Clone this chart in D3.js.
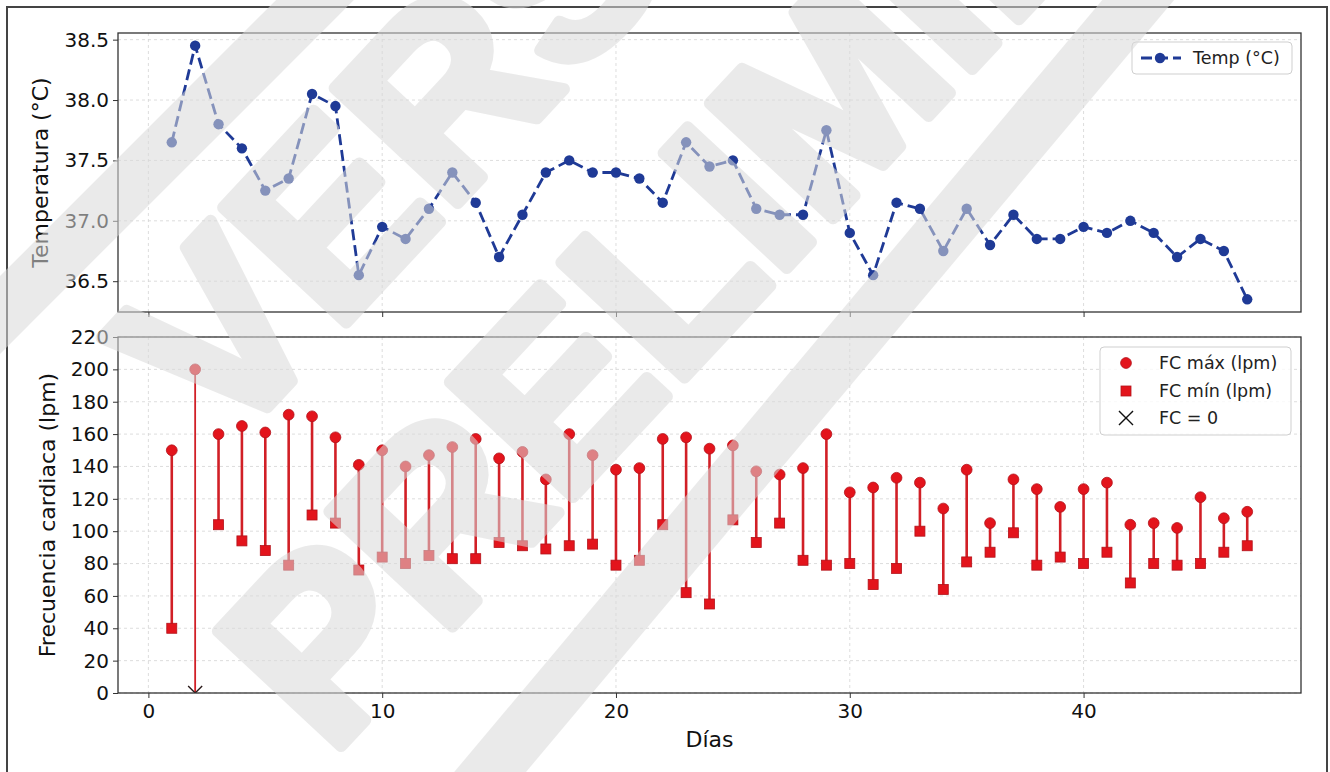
<!DOCTYPE html>
<html>
<head>
<meta charset="utf-8" />
<title>Temperatura y frecuencia cardiaca</title>
<script src="https://d3js.org/d3.v7.min.js"></script>
<style>
  body { margin: 0; background: #fff; }
  svg { display: block; font-family: "DejaVu Sans", sans-serif; }
</style>
</head>
<body>
<svg id="chart" width="1330" height="772"></svg>
<script>
// Data
const days = [1, 2, 3, 4, 5, 6, 7, 8, 9, 10, 11, 12, 13, 14, 15, 16, 17, 18, 19, 20,
  21, 22, 23, 24, 25, 26, 27, 28, 29, 30, 31, 32, 33, 34, 35, 36, 37, 38, 39, 40,
  41, 42, 43, 44, 45, 46, 47];
const temp = [37.65, 38.45, 37.8, 37.6, 37.25, 37.35, 38.05, 37.95, 36.55, 36.95,
  36.85, 37.1, 37.4, 37.15, 36.7, 37.05, 37.4, 37.5, 37.4, 37.4,
  37.35, 37.15, 37.65, 37.45, 37.5, 37.1, 37.05, 37.05, 37.75, 36.9,
  36.55, 37.15, 37.1, 36.75, 37.1, 36.8, 37.05, 36.85, 36.85, 36.95,
  36.9, 37.0, 36.9, 36.7, 36.85, 36.75, 36.35];
const fcMax = [150, 200, 160, 165, 161, 172, 171, 158, 141, 150,
  140, 147, 152, 157, 145, 149, 132, 160, 147, 138,
  139, 157, 158, 151, 153, 137, 135, 139, 160, 124,
  127, 133, 130, 114, 138, 105, 132, 126, 115, 126,
  130, 104, 105, 102, 121, 108, 112];
const fcMin = [40, 0, 104, 94, 88, 79, 110, 105, 76, 84,
  80, 85, 83, 83, 93, 91, 89, 91, 92, 79,
  82, 104, 62, 55, 107, 93, 105, 82, 79, 80,
  67, 77, 100, 64, 81, 87, 99, 79, 84, 80,
  87, 68, 80, 79, 80, 87, 91];
const xTicks = [0, 10, 20, 30, 40];
const tempTicks = [36.5, 37.0, 37.5, 38.0, 38.5];
const fcTicks = [0, 20, 40, 60, 80, 100, 120, 140, 160, 180, 200, 220];

const blue = "#1f3a96";
const red = "#e3141c";
const redEdge = "#b3121a";
const stemRed = "#d11f26";
const wmGray = "#dadada";

const svg = d3.select("#chart");
svg.append("rect").attr("width", 1330).attr("height", 772).attr("fill", "#fff");

// figure frame
svg.append("rect")
  .attr("x", 7).attr("y", 7).attr("width", 1320).attr("height", 800)
  .attr("fill", "none").attr("stroke", "#444").attr("stroke-width", 2);

const left = 118, right = 1301;
const top1 = 33, bot1 = 312;
const top2 = 337, bot2 = 693;

const x = d3.scaleLinear().domain([-1.3, 49.3]).range([left, right]);
const yT = d3.scaleLinear().domain([36.245, 38.555]).range([bot1, top1]);
const yF = d3.scaleLinear().domain([0, 220]).range([bot2, top2]);

const defs = svg.append("defs");
defs.append("clipPath").attr("id", "clipTop").append("rect")
  .attr("x", left).attr("y", top1).attr("width", right - left).attr("height", bot1 - top1);
defs.append("clipPath").attr("id", "clipBot").append("rect")
  .attr("x", left).attr("y", top2).attr("width", right - left).attr("height", bot2 - top2);

function grid(g, yScale, yTicks, y0, y1) {
  g.append("g").selectAll("line").data(xTicks).join("line")
    .attr("x1", d => x(d)).attr("x2", d => x(d))
    .attr("y1", y0).attr("y2", y1)
    .attr("stroke", "#d4d4d4").attr("stroke-width", 0.8).attr("stroke-dasharray", "3,3");
  g.append("g").selectAll("line").data(yTicks).join("line")
    .attr("x1", left).attr("x2", right)
    .attr("y1", d => yScale(d)).attr("y2", d => yScale(d))
    .attr("stroke", "#d4d4d4").attr("stroke-width", 0.8).attr("stroke-dasharray", "3,3");
}

function axes(g, yScale, yTicks, fmt, y0, y1, showX) {
  const ya = g.append("g").attr("transform", `translate(${left},0)`)
    .call(d3.axisLeft(yScale).tickValues(yTicks).tickFormat(fmt).tickSize(5).tickPadding(4));
  const xa = g.append("g").attr("transform", `translate(0,${y1})`)
    .call(d3.axisBottom(x).tickValues(xTicks).tickFormat(showX ? d3.format("d") : "").tickSize(5).tickPadding(6));
  [ya, xa].forEach(a => {
    a.select(".domain").remove();
    a.selectAll("line").attr("stroke", "#333");
    a.selectAll("text").attr("font-size", 20).attr("fill", "#111")
      .attr("font-family", "DejaVu Sans, sans-serif");
  });
  g.append("rect").attr("x", left).attr("y", y0).attr("width", right - left).attr("height", y1 - y0)
    .attr("fill", "none").attr("stroke", "#333").attr("stroke-width", 1.3);
}

// ---- top panel: temperature
const gTop = svg.append("g");
grid(gTop, yT, tempTicks, top1, bot1);

const plotTop = gTop.append("g").attr("clip-path", "url(#clipTop)");
plotTop.append("path")
  .datum(days.map((d, i) => [d, temp[i]]))
  .attr("d", d3.line().x(d => x(d[0])).y(d => yT(d[1])))
  .attr("fill", "none").attr("stroke", blue).attr("stroke-width", 2.8)
  .attr("stroke-dasharray", "11,5");
plotTop.selectAll("circle").data(days).join("circle")
  .attr("cx", d => x(d)).attr("cy", (d, i) => yT(temp[i])).attr("r", 5.2)
  .attr("fill", blue);

axes(gTop, yT, tempTicks, d3.format(".1f"), top1, bot1, false);

gTop.append("text")
  .attr("transform", `translate(42,${(top1 + bot1) / 2}) rotate(-90)`)
  .attr("text-anchor", "middle").attr("dominant-baseline", "middle")
  .attr("font-size", 22).attr("fill", "#111").text("Temperatura (°C)");

// legend top
const lg1 = gTop.append("g");
lg1.append("rect").attr("x", 1132).attr("y", 42).attr("width", 160).attr("height", 32).attr("rx", 4)
  .attr("fill", "#fff").attr("fill-opacity", 0.8).attr("stroke", "#cfcfcf");
lg1.append("line").attr("x1", 1141).attr("x2", 1181).attr("y1", 58).attr("y2", 58)
  .attr("stroke", blue).attr("stroke-width", 2.8).attr("stroke-dasharray", "11,5");
lg1.append("circle").attr("cx", 1160).attr("cy", 58).attr("r", 5.2).attr("fill", blue);
lg1.append("text").attr("x", 1193).attr("y", 64).attr("font-size", 17.5).attr("fill", "#222")
  .text("Temp (°C)");

// ---- bottom panel: heart rate
const gBot = svg.append("g");
grid(gBot, yF, fcTicks, top2, bot2);

const plotBot = gBot.append("g").attr("clip-path", "url(#clipBot)");
const hr = days.map((d, i) => ({ day: d, max: fcMax[i], min: fcMin[i] }));
plotBot.selectAll("line.stem").data(hr).join("line")
  .attr("class", "stem")
  .attr("x1", d => x(d.day)).attr("x2", d => x(d.day))
  .attr("y1", d => yF(d.max)).attr("y2", d => yF(d.min))
  .attr("stroke", stemRed).attr("stroke-width", d => d.min === 0 ? 1.8 : 2.6);
plotBot.selectAll("rect.min").data(hr.filter(d => d.min > 0)).join("rect")
  .attr("class", "min")
  .attr("x", d => x(d.day) - 5).attr("y", d => yF(d.min) - 5)
  .attr("width", 10).attr("height", 10)
  .attr("fill", red).attr("stroke", redEdge).attr("stroke-width", 0.8);
plotBot.selectAll("circle.max").data(hr).join("circle")
  .attr("class", "max")
  .attr("cx", d => x(d.day)).attr("cy", d => yF(d.max)).attr("r", 5.4)
  .attr("fill", red).attr("stroke", redEdge).attr("stroke-width", 0.8);
const xMark = d3.symbol().type(d3.symbolX).size(130);
plotBot.selectAll("path.zero").data(hr.filter(d => d.min === 0)).join("path")
  .attr("class", "zero")
  .attr("transform", d => `translate(${x(d.day)},${yF(0)})`)
  .attr("d", xMark).attr("fill", "none").attr("stroke", "#2a1a1a").attr("stroke-width", 1.4);

axes(gBot, yF, fcTicks, d3.format("d"), top2, bot2, true);

gBot.append("text")
  .attr("transform", `translate(49,${(top2 + bot2) / 2}) rotate(-90)`)
  .attr("text-anchor", "middle").attr("dominant-baseline", "middle")
  .attr("font-size", 22).attr("fill", "#111").text("Frecuencia cardiaca (lpm)");
gBot.append("text").attr("x", (left + right) / 2).attr("y", 747)
  .attr("text-anchor", "middle").attr("font-size", 22).attr("fill", "#111").text("Días");

// legend bottom
const lg2 = gBot.append("g");
lg2.append("rect").attr("x", 1100).attr("y", 347).attr("width", 191).attr("height", 88).attr("rx", 4)
  .attr("fill", "#fff").attr("fill-opacity", 0.8).attr("stroke", "#cfcfcf");
lg2.append("circle").attr("cx", 1126).attr("cy", 363).attr("r", 5.4)
  .attr("fill", red).attr("stroke", redEdge).attr("stroke-width", 0.8);
lg2.append("rect").attr("x", 1121).attr("y", 386).attr("width", 10).attr("height", 10)
  .attr("fill", red).attr("stroke", redEdge).attr("stroke-width", 0.8);
lg2.append("path").attr("transform", "translate(1126,418)").attr("d", xMark)
  .attr("fill", "none").attr("stroke", "#111").attr("stroke-width", 1.4);
const legItems = ["FC máx (lpm)", "FC mín (lpm)", "FC = 0"];
lg2.selectAll("text").data(legItems).join("text")
  .attr("x", 1159).attr("y", (d, i) => 369 + i * 27.5)
  .attr("font-size", 17.5).attr("fill", "#222").text(d => d);

// ---- watermark on top (light, semi-transparent)
const wm = svg.append("g").attr("opacity", 0.55).attr("pointer-events", "none");
wm.append("line").attr("x1", -30).attr("y1", 345).attr("x2", 345).attr("y2", -30)
  .attr("stroke", wmGray).attr("stroke-width", 55);
wm.append("line").attr("x1", 1155).attr("y1", -20).attr("x2", 475).attr("y2", 790)
  .attr("stroke", wmGray).attr("stroke-width", 55);
const wmText = wm.append("g").attr("transform", "translate(330,758) rotate(-47)")
  .attr("font-family", "Liberation Sans, Arial, sans-serif").attr("font-weight", "bold")
  .attr("font-size", 245).attr("fill", wmGray)
  .attr("stroke", wmGray).attr("stroke-width", 12).attr("stroke-linejoin", "round");
wmText.append("text").attr("x", 0).attr("y", 0).text("PRELIMINAR");
wmText.append("text").attr("x", 150).attr("y", -285).text("VERSIÓN");
</script>
</body>
</html>
